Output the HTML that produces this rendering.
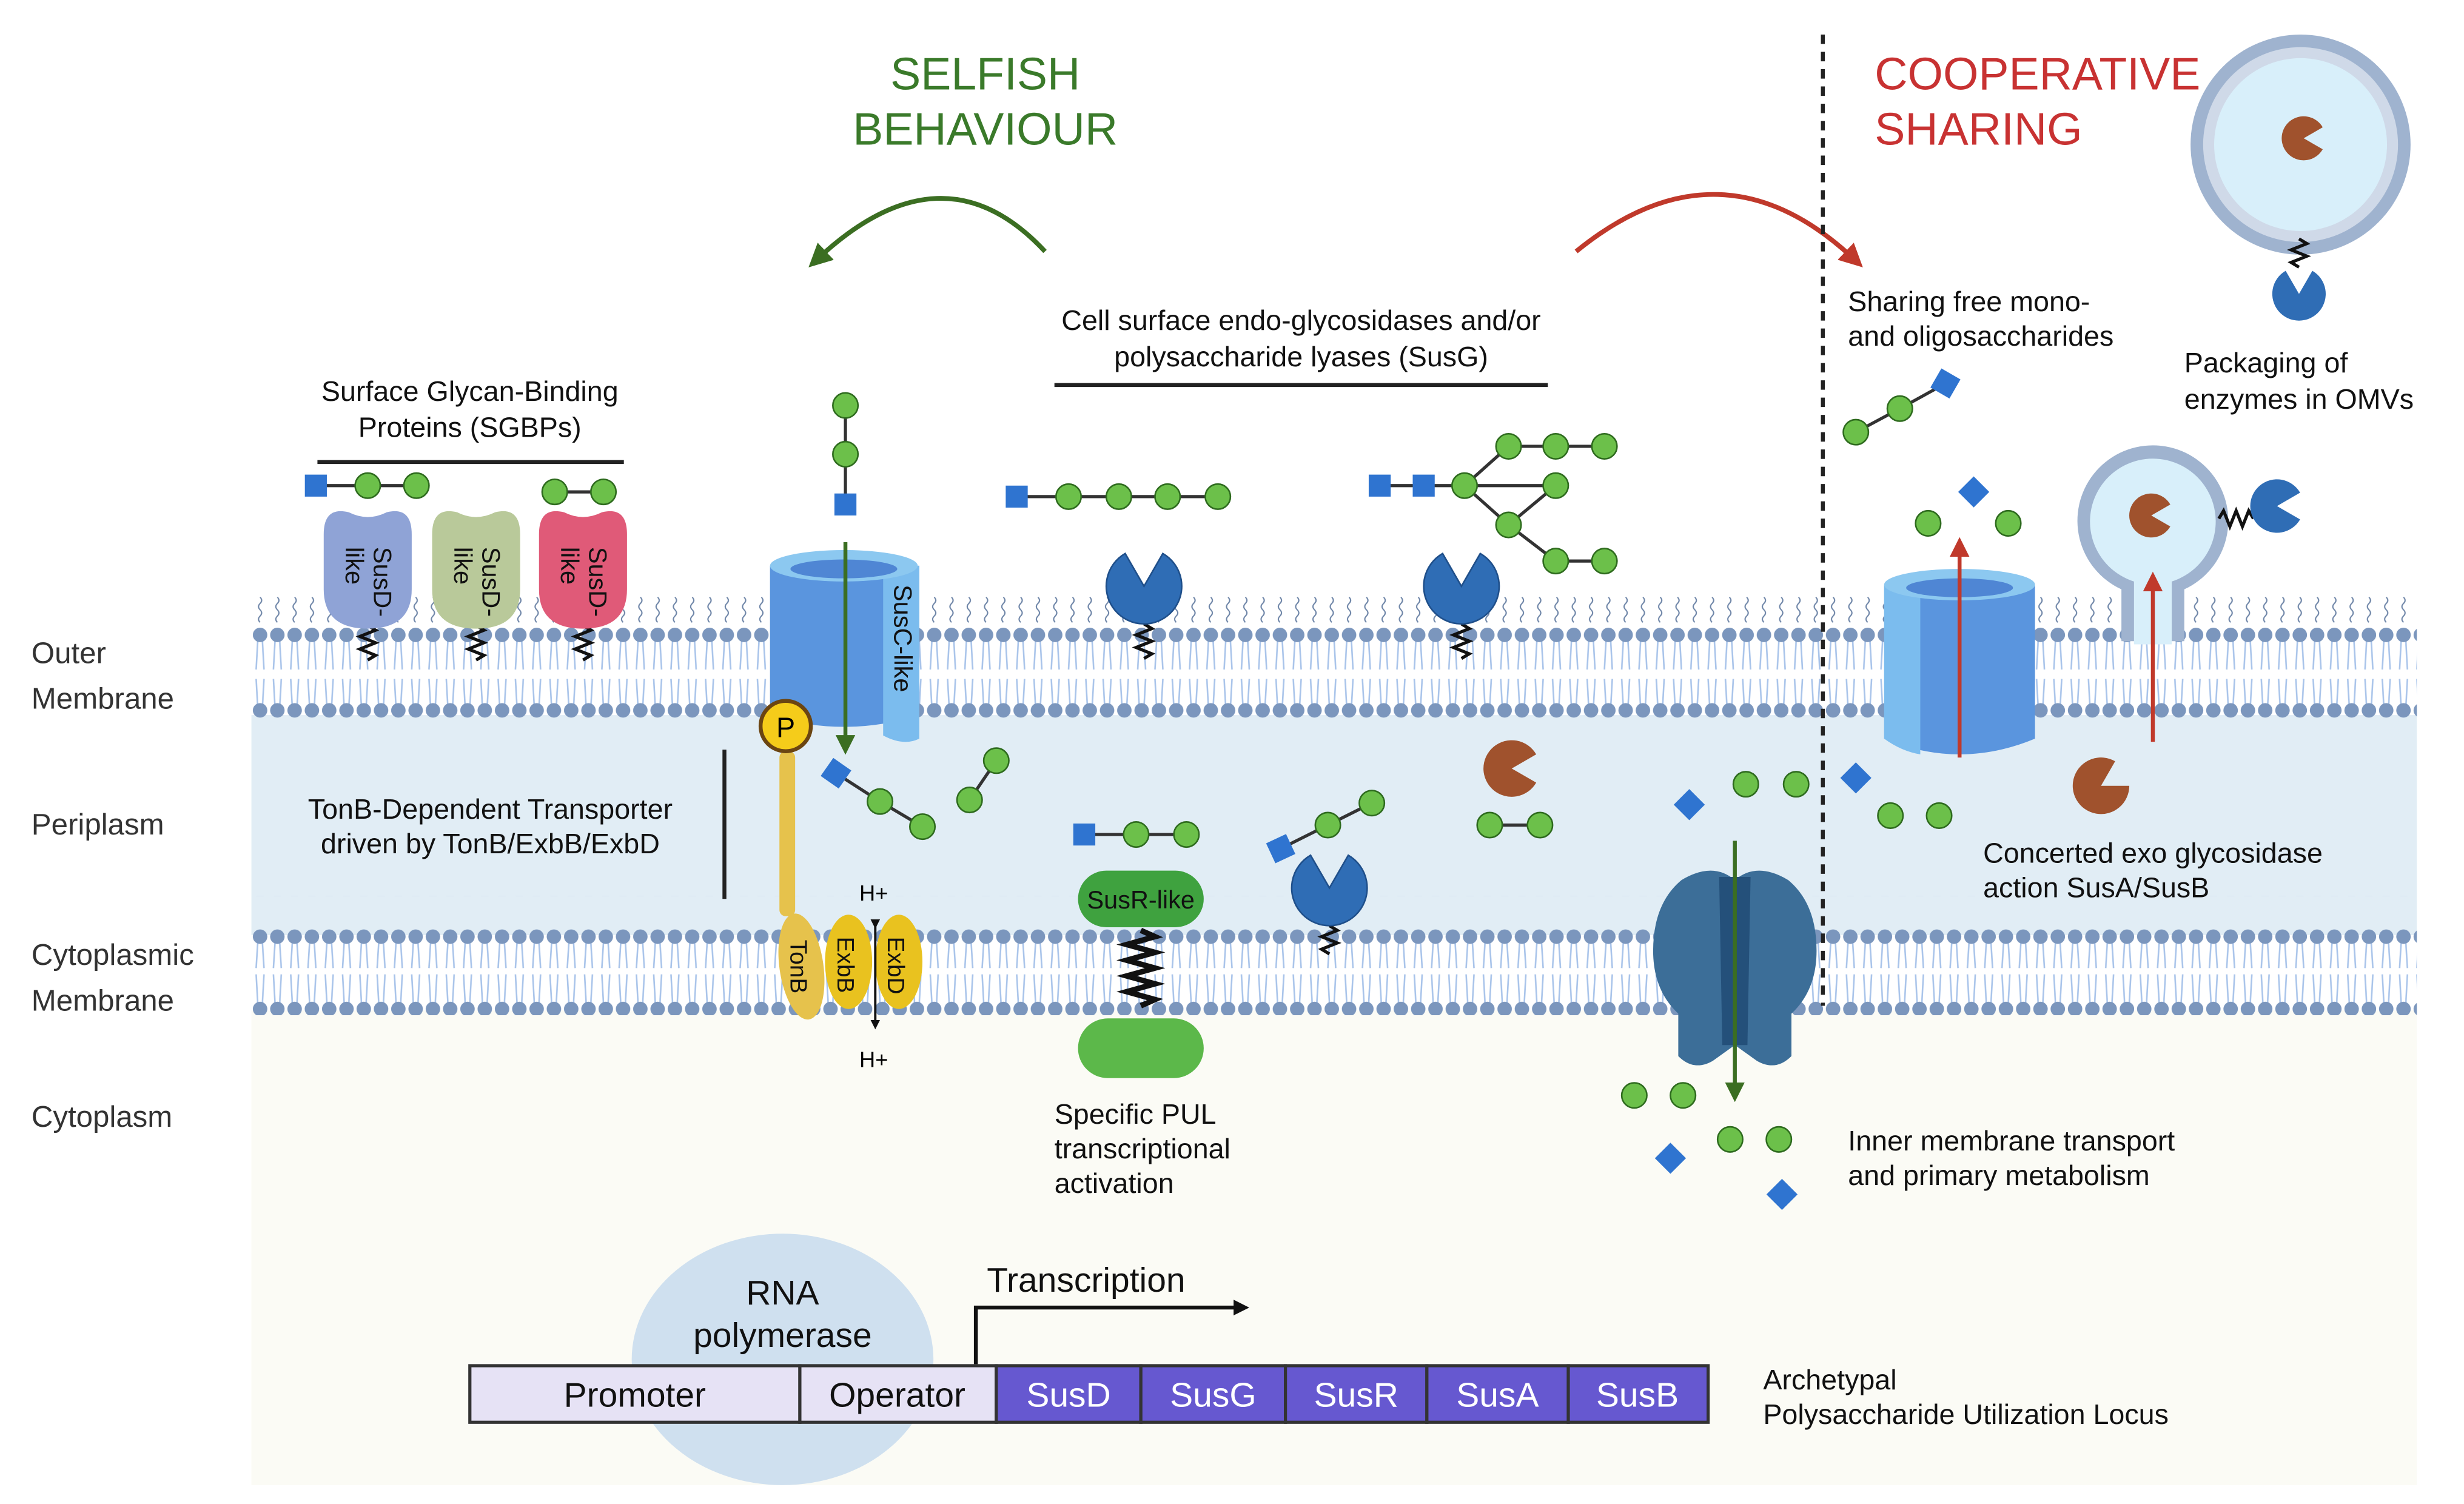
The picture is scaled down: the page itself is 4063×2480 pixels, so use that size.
<!DOCTYPE html>
<html><head><meta charset="utf-8"><style>html,body{margin:0;padding:0;background:#fff}svg{display:block}text{font-family:"Liberation Sans",sans-serif}</style></head><body>
<svg width="4063" height="2480" viewBox="0 0 1568 957" preserveAspectRatio="none" xmlns="http://www.w3.org/2000/svg">
<defs>
<pattern id="om" x="160" y="378" width="11" height="80" patternUnits="userSpaceOnUse">
<path d="M5.5,2 q2,2 0,4 q-2,2 0,4 q2,2 0,4 q-2,2 0,4" stroke="#6f86a8" stroke-width=".8" fill="none"/>
<path d="M4,30 L3,48 M7,30 L8,48 M3,54 L4,72 M8,54 L7,72" stroke="#a9c4ea" stroke-width="1"/>
<circle cx="5.5" cy="26" r="4.6" fill="#7b96bd"/><circle cx="5.5" cy="74" r="4.6" fill="#7b96bd"/>
</pattern>
<pattern id="cm" x="160" y="570" width="11" height="76" patternUnits="userSpaceOnUse">
<path d="M4,30 L3,46 M7,30 L8,46 M3,50 L4,68 M8,50 L7,68" stroke="#a9c4ea" stroke-width="1"/>
<circle cx="5.5" cy="26" r="4.6" fill="#7b96bd"/><circle cx="5.5" cy="72" r="4.6" fill="#7b96bd"/>
</pattern>
<marker id="ag" viewBox="0 0 10 10" refX="5" refY="5" markerWidth="5" markerHeight="5" orient="auto"><path d="M0,0 L10,5 L0,10z" fill="#3b6e22"/></marker>
<marker id="ar" viewBox="0 0 10 10" refX="5" refY="5" markerWidth="5" markerHeight="5" orient="auto"><path d="M0,0 L10,5 L0,10z" fill="#c0392b"/></marker>
<marker id="ak" viewBox="0 0 10 10" refX="5" refY="5" markerWidth="4" markerHeight="4" orient="auto"><path d="M0,0 L10,5 L0,10z" fill="#111"/></marker>
</defs>
<!-- backgrounds -->
<rect x="160" y="455" width="1378" height="140" fill="#e1edf5"/>
<rect x="160" y="643" width="1378" height="302" fill="#fbfbf5"/>
<rect x="160" y="378" width="1378" height="80" fill="url(#om)"/>
<rect x="160" y="570" width="1378" height="76" fill="url(#cm)"/>

<!-- left labels -->
<g font-size="19" fill="#333">
<text x="20" y="422">Outer</text><text x="20" y="451">Membrane</text>
<text x="20" y="531">Periplasm</text>
<text x="20" y="614">Cytoplasmic</text><text x="20" y="643">Membrane</text>
<text x="20" y="717">Cytoplasm</text>
</g>

<!-- titles -->
<g font-size="29" text-anchor="middle" fill="#3a7a2a"><text x="627" y="57">SELFISH</text><text x="627" y="92">BEHAVIOUR</text></g>
<g font-size="29" fill="#c83232"><text x="1193" y="57">COOPERATIVE</text><text x="1193" y="92">SHARING</text></g>
<path d="M665,160 Q600,90 520,165" stroke="#3b6e22" stroke-width="3" fill="none" marker-end="url(#ag)"/>
<path d="M1003,160 Q1095,85 1180,165" stroke="#c0392b" stroke-width="3" fill="none" marker-end="url(#ar)"/>
<line x1="1160" y1="22" x2="1160" y2="640" stroke="#222" stroke-width="2.5" stroke-dasharray="6,5"/>

<!-- OMV top right -->
<circle cx="1464" cy="92" r="70" fill="#9fb3cf"/><circle cx="1464" cy="92" r="62" fill="#cfd9e8"/><circle cx="1464" cy="92" r="55" fill="#d8effa"/>
<path d="M1466,88 l12.1,-7 a14,14 0 1 0 0,14 z" fill="#a0522d"/>
<path d="M1463,152 l5,3 l-10,4 l10,4 l-10,4 l5,3" stroke="#111" stroke-width="2" fill="none"/>
<path d="M1463,187 l8.5,-14.7 a17,17 0 1 1 -17,0 z" fill="#2f6db5"/>
<g font-size="18" fill="#111"><text x="1390" y="237">Packaging of</text><text x="1390" y="260">enzymes in OMVs</text>
<text x="1176" y="198">Sharing free mono-</text><text x="1176" y="220">and oligosaccharides</text></g>
<path d="M1181,275 L1209,260 L1238,244" stroke="#333" stroke-width="2"/>
<circle cx="1181" cy="275" r="8" fill="#6cc04a" stroke="#2e6b1e"/><circle cx="1209" cy="260" r="8" fill="#6cc04a" stroke="#2e6b1e"/>
<rect x="1231" y="237" width="14" height="14" fill="#2f74d0" transform="rotate(30 1238 244)"/>

<!-- SusG label -->
<g font-size="18" fill="#111" text-anchor="middle"><text x="828" y="210">Cell surface endo-glycosidases and/or</text><text x="828" y="233">polysaccharide lyases (SusG)</text>
<text x="299" y="255">Surface Glycan-Binding</text><text x="299" y="278">Proteins (SGBPs)</text>
<text x="312" y="521">TonB-Dependent Transporter</text><text x="312" y="543">driven by TonB/ExbB/ExbD</text></g>
<line x1="671" y1="245" x2="985" y2="245" stroke="#222" stroke-width="2.5"/>
<line x1="202" y1="294" x2="397" y2="294" stroke="#222" stroke-width="2.5"/>
<line x1="461" y1="477" x2="461" y2="572" stroke="#222" stroke-width="2.5"/>

<!-- SGBPs -->
<g stroke="#111" stroke-width="2" fill="none">
<path d="M234,398 l5,3 l-10,4 l10,4 l-10,4 l10,4 l-5,3"/>
<path d="M303,398 l5,3 l-10,4 l10,4 l-10,4 l10,4 l-5,3"/>
<path d="M371,398 l5,3 l-10,4 l10,4 l-10,4 l10,4 l-5,3"/>
</g>
<path d="M206,340 Q206,322 222,326 Q234,332 246,326 Q262,322 262,340 L262,375 Q262,400 234,400 Q206,400 206,375 Z" fill="#8fa3d6"/>
<path d="M275,340 Q275,322 291,326 Q303,332 315,326 Q331,322 331,340 L331,375 Q331,400 303,400 Q275,400 275,375 Z" fill="#b9c99a"/>
<path d="M343,340 Q343,322 359,326 Q371,332 383,326 Q399,322 399,340 L399,375 Q399,400 371,400 Q343,400 343,375 Z" fill="#e05a78"/>
<g font-size="16" fill="#111">
<text transform="translate(238,348) rotate(90)">SusD-</text><text transform="translate(220,348) rotate(90)">like</text>
<text transform="translate(307,348) rotate(90)">SusD-</text><text transform="translate(289,348) rotate(90)">like</text>
<text transform="translate(375,348) rotate(90)">SusD-</text><text transform="translate(357,348) rotate(90)">like</text>
</g>
<path d="M201,309 L265,309 M353,313 L384,313" stroke="#333" stroke-width="2"/>
<rect x="194" y="302" width="14" height="14" fill="#2f74d0"/>
<g fill="#6cc04a" stroke="#2e6b1e"><circle cx="234" cy="309" r="8"/><circle cx="265" cy="309" r="8"/><circle cx="353" cy="313" r="8"/><circle cx="384" cy="313" r="8"/></g>

<!-- SusC -->
<path d="M490,360 L490,455 Q537,470 585,455 L585,360 Z" fill="#5a95de"/>
<path d="M562,360 L562,468 Q575,475 585,470 L585,360 Z" fill="#7bbcee"/>
<ellipse cx="537" cy="360" rx="47" ry="10" fill="#8cc8f0"/><ellipse cx="537" cy="362" rx="34" ry="6" fill="#4f86d4"/>
<text transform="translate(569,372) rotate(90)" font-size="16" fill="#111">SusC-like</text>
<path d="M538,258 L538,321" stroke="#333" stroke-width="2"/>
<circle cx="538" cy="258" r="8" fill="#6cc04a" stroke="#2e6b1e"/><circle cx="538" cy="289" r="8" fill="#6cc04a" stroke="#2e6b1e"/>
<rect x="531" y="314" width="14" height="14" fill="#2f74d0"/>
<line x1="538" y1="345" x2="538" y2="474" stroke="#3b6e22" stroke-width="2.5" marker-end="url(#ag)"/>
<!-- TonB -->
<rect x="496" y="478" width="10" height="105" rx="4" fill="#e6c24c"/>
<ellipse cx="510" cy="615" rx="14" ry="34" fill="#e6c24c" transform="rotate(-8 510 615)"/>
<ellipse cx="540" cy="612" rx="15" ry="30" fill="#e9c21f"/>
<ellipse cx="572" cy="612" rx="15" ry="30" fill="#e9c21f"/>
<g font-size="15" fill="#111"><text transform="translate(503,598) rotate(90)">TonB</text><text transform="translate(533,596) rotate(90)">ExbB</text><text transform="translate(565,596) rotate(90)">ExbD</text></g>
<line x1="557" y1="588" x2="557" y2="652" stroke="#111" stroke-width="1.5" marker-start="url(#ak)" marker-end="url(#ak)"/>
<text x="556" y="573" font-size="14" text-anchor="middle">H+</text><text x="556" y="679" font-size="14" text-anchor="middle">H+</text>
<circle cx="500" cy="462" r="16" fill="#f5cc1a" stroke="#6b4512" stroke-width="2.5"/>
<text x="500" y="469" font-size="18" text-anchor="middle">P</text>
<!-- periplasm glycans left -->
<path d="M532,492 L560,510 L587,526 M617,509 L634,484" stroke="#333" stroke-width="2"/>
<rect x="525" y="485" width="14" height="14" fill="#2f74d0" transform="rotate(35 532 492)"/>
<g fill="#6cc04a" stroke="#2e6b1e"><circle cx="560" cy="510" r="8"/><circle cx="587" cy="526" r="8"/><circle cx="617" cy="509" r="8"/><circle cx="634" cy="484" r="8"/></g>

<!-- surface chains -->
<path d="M647,316 L775,316" stroke="#333" stroke-width="2"/>
<rect x="640" y="309" width="14" height="14" fill="#2f74d0"/>
<g fill="#6cc04a" stroke="#2e6b1e"><circle cx="680" cy="316" r="8"/><circle cx="712" cy="316" r="8"/><circle cx="743" cy="316" r="8"/><circle cx="775" cy="316" r="8"/></g>
<path d="M878,309 L932,309 L960,284 L1021,284 M932,309 L990,309 M932,309 L960,334 L990,357 L1021,357 M960,334 L990,309" stroke="#333" stroke-width="2" fill="none"/>
<rect x="871" y="302" width="14" height="14" fill="#2f74d0"/><rect x="899" y="302" width="14" height="14" fill="#2f74d0"/>
<g fill="#6cc04a" stroke="#2e6b1e"><circle cx="932" cy="309" r="8"/><circle cx="960" cy="284" r="8"/><circle cx="990" cy="284" r="8"/><circle cx="1021" cy="284" r="8"/><circle cx="990" cy="309" r="8"/><circle cx="960" cy="334" r="8"/><circle cx="990" cy="357" r="8"/><circle cx="1021" cy="357" r="8"/></g>
<g stroke="#111" stroke-width="2" fill="none">
<path d="M728,397 l5,3 l-10,4 l10,4 l-10,4 l10,4 l-5,3"/>
<path d="M930,397 l5,3 l-10,4 l10,4 l-10,4 l10,4 l-5,3"/>
<path d="M846,589 l5,3 l-10,4 l10,4 l-10,4 l5,3"/>
</g>
<path d="M728,373 l12,-20.8 a24,24 0 1 1 -24,0 z" fill="#2f6db5" stroke="#1f4f8a"/>
<path d="M930,373 l12,-20.8 a24,24 0 1 1 -24,0 z" fill="#2f6db5" stroke="#1f4f8a"/>
<path d="M846,565 l12,-20.8 a24,24 0 1 1 -24,0 z" fill="#2f6db5" stroke="#1f4f8a"/>
<!-- SusR -->
<path d="M690,531 L755,531 M815,540 L845,525 L873,511" stroke="#333" stroke-width="2"/>
<rect x="683" y="524" width="14" height="14" fill="#2f74d0"/>
<rect x="808" y="533" width="14" height="14" fill="#2f74d0" transform="rotate(-25 815 540)"/>
<g fill="#6cc04a" stroke="#2e6b1e"><circle cx="723" cy="531" r="8"/><circle cx="755" cy="531" r="8"/><circle cx="845" cy="525" r="8"/><circle cx="873" cy="511" r="8"/></g>
<path d="M726,592 l9,4 l-18,5 l18,5 l-18,5 l18,5 l-18,5 l18,5 l-18,5 l18,5 l-9,4" stroke="#111" stroke-width="3.5" fill="none"/>
<rect x="686" y="554" width="80" height="36" rx="18" fill="#3fa23f"/>
<text x="726" y="578" font-size="16" text-anchor="middle" fill="#111">SusR-like</text>
<rect x="686" y="648" width="80" height="38" rx="19" fill="#5cb84a"/>
<g font-size="18" fill="#111"><text x="671" y="715">Specific PUL</text><text x="671" y="737">transcriptional</text><text x="671" y="759">activation</text></g>
<!-- brown enzyme -->
<path d="M962,489 l15.6,-9 a18,18 0 1 0 0,18 z" fill="#a0522d"/>
<path d="M948,525 L980,525" stroke="#333" stroke-width="2"/>
<circle cx="948" cy="525" r="8" fill="#6cc04a" stroke="#2e6b1e"/><circle cx="980" cy="525" r="8" fill="#6cc04a" stroke="#2e6b1e"/>
<!-- inner transporter -->
<path d="M1070,560 Q1090,548 1104,560 Q1118,548 1138,560 Q1156,575 1156,605 Q1156,630 1140,645 L1140,672 Q1130,682 1118,675 L1104,665 L1090,675 Q1078,682 1068,672 L1068,645 Q1052,630 1052,605 Q1052,575 1070,560Z" fill="#3c6e98"/>
<path d="M1094,558 L1114,558 L1112,665 L1096,665Z" fill="#24507a"/>
<line x1="1104" y1="535" x2="1104" y2="695" stroke="#3b6e22" stroke-width="2.5" marker-end="url(#ag)"/>
<g fill="#2f74d0"><rect x="1068" y="505" width="14" height="14" transform="rotate(45 1075 512)"/><rect x="1174" y="488" width="14" height="14" transform="rotate(45 1181 495)"/><rect x="1056" y="730" width="14" height="14" transform="rotate(45 1063 737)"/><rect x="1127" y="753" width="14" height="14" transform="rotate(45 1134 760)"/><rect x="1249" y="306" width="14" height="14" transform="rotate(45 1256 313)"/></g>
<g fill="#6cc04a" stroke="#2e6b1e"><circle cx="1111" cy="499" r="8"/><circle cx="1143" cy="499" r="8"/><circle cx="1203" cy="519" r="8"/><circle cx="1234" cy="519" r="8"/><circle cx="1040" cy="697" r="8"/><circle cx="1071" cy="697" r="8"/><circle cx="1101" cy="725" r="8"/><circle cx="1132" cy="725" r="8"/><circle cx="1227" cy="333" r="8"/><circle cx="1278" cy="333" r="8"/></g>
<g font-size="18" fill="#111"><text x="1176" y="732">Inner membrane transport</text><text x="1176" y="754">and primary metabolism</text>
<text x="1262" y="549">Concerted exo glycosidase</text><text x="1262" y="571">action SusA/SusB</text></g>
<!-- right transporter -->
<path d="M1199,372 L1199,470 Q1247,490 1295,470 L1295,372 Z" fill="#5a95de"/>
<path d="M1199,372 L1199,470 Q1210,478 1222,480 L1222,372Z" fill="#7bbcee"/>
<ellipse cx="1247" cy="372" rx="48" ry="10" fill="#8cc8f0"/><ellipse cx="1247" cy="374" rx="34" ry="6" fill="#4f86d4"/>
<line x1="1247" y1="482" x2="1247" y2="348" stroke="#c0392b" stroke-width="2.5" marker-end="url(#ar)"/>
<!-- budding OMV -->
<path d="M1350,408 L1350,375 A48,48 0 1 1 1390,375 L1390,408 Z" fill="#9fb3cf"/>
<path d="M1358,410 L1358,370 A40,40 0 1 1 1382,370 L1382,410 Z" fill="#d8effa"/>
<path d="M1369,328 l12.1,-7 a14,14 0 1 0 0,14 z" fill="#a0522d"/>
<path d="M1412,330 l3,-5 l4,10 l4,-10 l4,10 l4,-10 l3,5" stroke="#111" stroke-width="2" fill="none"/>
<path d="M1449,322 l14.7,-8.5 a17,17 0 1 0 0,17 z" fill="#2f6db5"/>
<line x1="1370" y1="472" x2="1370" y2="370" stroke="#c0392b" stroke-width="2.5" marker-end="url(#ar)"/>
<path d="M1337,500 l15.6,-9 a18,18 0 1 0 0,18 z" fill="#a0522d" transform="rotate(-30 1337 500)"/>

<!-- bottom gene -->
<ellipse cx="498" cy="865" rx="96" ry="80" fill="#cfe0ef"/>
<g font-size="22" fill="#111" text-anchor="middle"><text x="498" y="830">RNA</text><text x="498" y="857">polymerase</text></g>
<path d="M621,868 L621,832 L790,832" stroke="#111" stroke-width="2.5" fill="none" marker-end="url(#ak)"/>
<text x="628" y="822" font-size="22" fill="#111">Transcription</text>
<g stroke="#333" stroke-width="2">
<rect x="299" y="869" width="210" height="36" fill="#e6e2f5"/><rect x="509" y="869" width="125" height="36" fill="#e6e2f5"/>
<rect x="634" y="869" width="92" height="36" fill="#6658d0"/><rect x="726" y="869" width="92" height="36" fill="#6658d0"/><rect x="818" y="869" width="90" height="36" fill="#6658d0"/><rect x="908" y="869" width="90" height="36" fill="#6658d0"/><rect x="998" y="869" width="89" height="36" fill="#6658d0"/>
</g>
<g font-size="22" text-anchor="middle"><text x="404" y="895" fill="#111">Promoter</text><text x="571" y="895" fill="#111">Operator</text>
<g fill="#fff"><text x="680" y="895">SusD</text><text x="772" y="895">SusG</text><text x="863" y="895">SusR</text><text x="953" y="895">SusA</text><text x="1042" y="895">SusB</text></g></g>
<g font-size="18" fill="#111"><text x="1122" y="884">Archetypal</text><text x="1122" y="906">Polysaccharide Utilization Locus</text></g>
</svg>
</body></html>
